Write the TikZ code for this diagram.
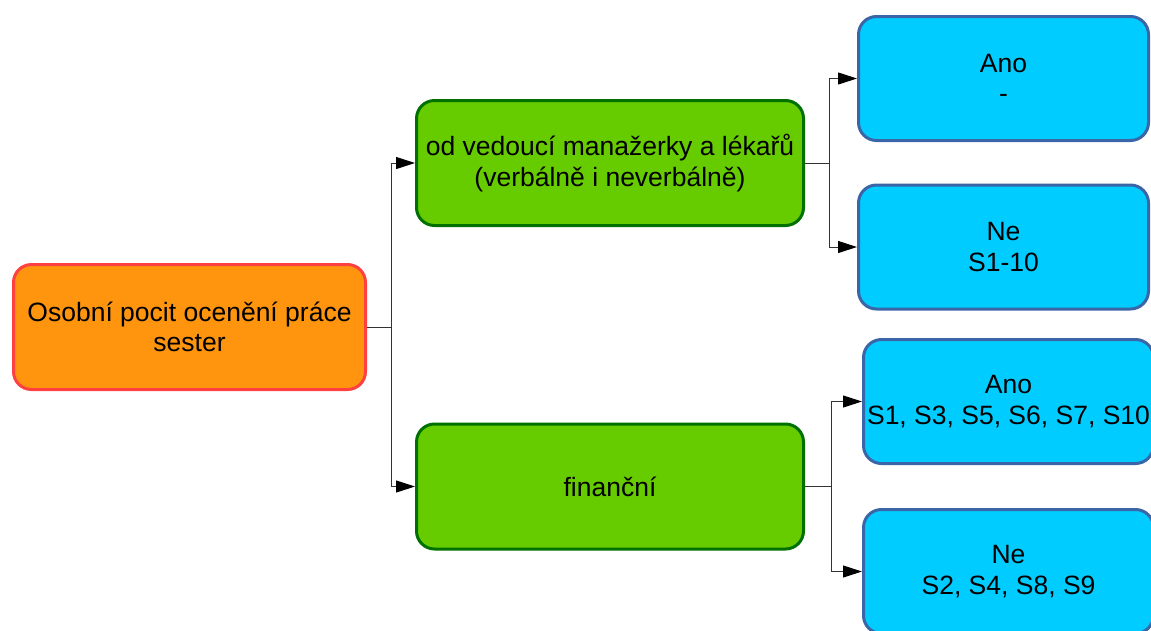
\documentclass[tikz,border=0pt]{standalone}
\usepackage{fontspec}
\setmainfont{Liberation Sans}
\usetikzlibrary{arrows.meta}

\definecolor{rootfill}{HTML}{FF950E}
\definecolor{rootline}{HTML}{FF4040}
\definecolor{midfill}{HTML}{66CC00}
\definecolor{midline}{HTML}{007000}
\definecolor{leaffill}{HTML}{00CCFF}
\definecolor{leafline}{HTML}{3A66A8}

\tikzset{
  box/.style={rounded corners=18pt, line width=3pt, align=center,
    inner sep=0pt, font=\fontsize{26.5}{30.5}\selectfont},
  rootbox/.style={box, fill=rootfill, draw=rootline,
    minimum width=352pt, minimum height=125pt},
  midbox/.style={box, fill=midfill, draw=midline,
    minimum width=387pt, minimum height=125pt},
  leafbox/.style={box, fill=leaffill, draw=leafline,
    minimum width=290pt, minimum height=124pt},
  wire/.style={draw=black!80, line width=1pt},
  arrow/.style={wire, -{Triangle[length=19pt, width=12pt, fill=black, color=black]}}
}

\begin{document}
\begin{tikzpicture}[x=1pt, y=-1pt]
  \useasboundingbox (0,0) rectangle (1151,630);
  \clip (0,0) rectangle (1151,630);

  % boxes
  \node[rootbox] (root) at (189.5,327) {Osobní pocit ocenění práce\\sester};
  \node[midbox] (g1) at (610,163) {od vedoucí manažerky a lékařů\\(verbálně i neverbálně)};
  \node[midbox] (g2) at (610,486.5) {finanční};
  \node[leafbox] (b1) at (1003.5,78.5) {Ano\\-};
  \node[leafbox] (b2) at (1003.5,247) {Ne\\S1-10};
  \node[leafbox] (b3) at (1008.5,401.5) {Ano\\S1, S3, S5, S6, S7, S10};
  \node[leafbox] (b4) at (1008.5,571.5) {Ne\\S2, S4, S8, S9};

  % connectors
  \draw[wire] (root.east) -- ++(24,0) coordinate (j0);
  \draw[arrow] (j0) |- (g1.west);
  \draw[arrow] (j0) |- (g2.west);

  \draw[wire] (g1.east) -- ++(24,0) coordinate (j1);
  \draw[arrow] (j1) |- (b1.west);
  \draw[arrow] (j1) |- (b2.west);

  \draw[wire] (g2.east) -- ++(26,0) coordinate (j2);
  \draw[arrow] (j2) |- (b3.west);
  \draw[arrow] (j2) |- (b4.west);
\end{tikzpicture}
\end{document}
